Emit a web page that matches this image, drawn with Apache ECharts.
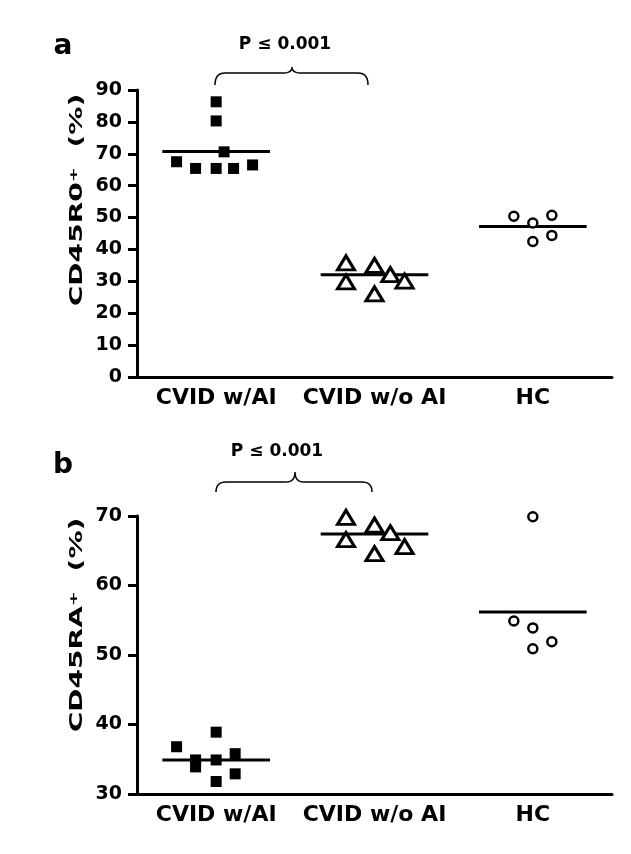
<!DOCTYPE html>
<html>
<head>
<meta charset="utf-8">
<script src="https://cdn.jsdelivr.net/npm/echarts@6/dist/echarts.min.js"></script>
<style>
html, body { margin: 0; padding: 0; background: #fff; }
#chart { width: 631px; height: 854px; }
</style>
</head>
<body>
<div id="chart"></div>
<script>
// groups on the x axis
const groups = ['CVID w/AI', 'CVID w/o AI', 'HC'];

// panel a: CD45R0+ (%), points as [x offset inside group, value]
const aCvidAI = [[0, 86.3], [0, 80.3], [0.05, 70.6], [-0.25, 67.5], [-0.13, 65.4], [0, 65.4], [0.11, 65.4], [0.23, 66.5]];
const aCvidNoAI = [[-0.18, 35.8], [-0.18, 29.8], [0, 35.0], [0.1, 32.1], [0.19, 30.1], [0, 26.1]];
const aHC = [[-0.12, 50.4], [0, 48.3], [0.12, 50.7], [0.12, 44.4], [0, 42.5]];
const aMeans = [70.7, 32.1, 47.2];

// panel b: CD45RA+ (%)
const bCvidAI = [[0, 38.9], [-0.25, 36.8], [-0.13, 34.9], [-0.13, 33.9], [0, 34.9], [0.12, 35.8], [0.12, 32.9], [0, 31.8]];
const bCvidNoAI = [[-0.18, 69.8], [-0.18, 66.6], [0, 68.7], [0.1, 67.6], [0.19, 65.6], [0, 64.6]];
const bHC = [[0, 69.9], [-0.12, 54.9], [0, 53.9], [0.12, 51.9], [0, 50.9]];
const bMeans = [34.9, 67.4, 56.2];

const font = '"DejaVu Sans", Verdana, sans-serif';

function pts(list, g) {
    return list.map(p => [g + 1 + p[0], p[1]]);
}

function dots(list, g, axis, kind) {
    const s = {
        type: 'scatter',
        xAxisIndex: axis * 2 + 1,
        yAxisIndex: axis,
        data: pts(list, g),
        z: 5,
        silent: true
    };
    if (kind === 'rect') {
        s.symbol = 'rect';
        s.symbolSize = 11;
        s.itemStyle = { color: '#000', opacity: 1 };
    } else if (kind === 'triangle') {
        s.symbol = 'triangle';
        s.symbolSize = [17, 14];
        s.itemStyle = { color: '#fff', borderColor: '#000', borderWidth: 3, opacity: 1 };
    } else {
        s.symbol = 'circle';
        s.symbolSize = 9;
        s.itemStyle = { color: '#fff', borderColor: '#000', borderWidth: 2.5, opacity: 1 };
    }
    return s;
}

function meanLine(m, g, axis) {
    return {
        type: 'line',
        xAxisIndex: axis * 2 + 1,
        yAxisIndex: axis,
        data: [[g + 1 - 0.34, m], [g + 1 + 0.34, m]],
        symbol: 'none',
        lineStyle: { color: '#000', width: 3 },
        z: 2,
        silent: true
    };
}

function catAxis(grid) {
    return {
        type: 'category',
        gridIndex: grid,
        data: groups,
        boundaryGap: true,
        axisLine: { lineStyle: { color: '#000', width: 3 } },
        axisTick: { alignWithLabel: true, length: 7, lineStyle: { color: '#000', width: 3 } },
        axisLabel: { interval: 0, hideOverlap: false, color: '#000', fontFamily: font, fontWeight: 'bold', fontSize: 22, margin: 10 },
        splitLine: { show: false }
    };
}

function posAxis(grid) {
    return { type: 'value', gridIndex: grid, min: 0.5, max: 3.5, show: false };
}

function valAxis(grid, min, max) {
    return {
        type: 'value',
        gridIndex: grid,
        min: min,
        max: max,
        interval: 10,
        axisLine: { show: true, lineStyle: { color: '#000', width: 3 } },
        axisTick: { show: true, length: 9, lineStyle: { color: '#000', width: 3 } },
        axisLabel: { color: '#000', fontFamily: font, fontWeight: 'bold', fontSize: 19, margin: 15 },
        splitLine: { show: false }
    };
}

function yName(x, y, main) {
    return {
        type: 'text',
        x: x,
        y: y,
        rotation: Math.PI / 2,
        scaleX: 1.65,
        style: {
            text: '{m|' + main + '}{s|+}{m|  (%)}',
            align: 'center',
            verticalAlign: 'middle',
            rich: {
                m: { fontFamily: font, fontWeight: 'bold', fontSize: 17, fill: '#000' },
                s: { fontFamily: font, fontWeight: 'bold', fontSize: 11, fill: '#000', verticalAlign: 'top', padding: [0, 0, 8, 0] }
            }
        }
    };
}

function label(x, y, txt, size) {
    return {
        type: 'text',
        x: x,
        y: y,
        style: {
            text: txt,
            align: 'center',
            verticalAlign: 'middle',
            fontFamily: font,
            fontWeight: 'bold',
            fontSize: size,
            fill: '#000'
        }
    };
}

// quadratic curve sampled into points
function quad(p0, c, p1) {
    const out = [];
    for (let i = 0; i <= 8; i++) {
        const t = i / 8;
        out.push([
            (1 - t) * (1 - t) * p0[0] + 2 * (1 - t) * t * c[0] + t * t * p1[0],
            (1 - t) * (1 - t) * p0[1] + 2 * (1 - t) * t * c[1] + t * t * p1[1]
        ]);
    }
    return out;
}

function brace(x1, x2, xm, yTop, yEnd, yPeak) {
    const p = [].concat(
        quad([x1, yEnd], [x1, yTop], [x1 + 10, yTop]),
        quad([xm - 9, yTop], [xm, yTop], [xm, yPeak]),
        quad([xm, yPeak], [xm, yTop], [xm + 9, yTop]),
        quad([x2 - 10, yTop], [x2, yTop], [x2, yEnd])
    );
    return {
        type: 'polyline',
        shape: { points: p },
        style: { fill: null, stroke: '#000', lineWidth: 1.5 }
    };
}

const chart = echarts.init(document.getElementById('chart'));
chart.setOption({
    backgroundColor: '#fff',
    animation: false,
    grid: [
        { left: 137, top: 90, width: 475, height: 287 },
        { left: 137, top: 516, width: 475, height: 278 }
    ],
    xAxis: [catAxis(0), posAxis(0), catAxis(1), posAxis(1)],
    yAxis: [valAxis(0, 0, 90), valAxis(1, 30, 70)],
    series: [
        meanLine(aMeans[0], 0, 0), meanLine(aMeans[1], 1, 0), meanLine(aMeans[2], 2, 0),
        meanLine(bMeans[0], 0, 1), meanLine(bMeans[1], 1, 1), meanLine(bMeans[2], 2, 1),
        dots(aCvidAI, 0, 0, 'rect'), dots(aCvidNoAI, 1, 0, 'triangle'), dots(aHC, 2, 0, 'circle'),
        dots(bCvidAI, 0, 1, 'rect'), dots(bCvidNoAI, 1, 1, 'triangle'), dots(bHC, 2, 1, 'circle')
    ],
    graphic: [
        label(63, 47, 'a', 28),
        label(63, 466, 'b', 28),
        label(285, 45, 'P ≤ 0.001', 17),
        label(277, 452, 'P ≤ 0.001', 17),
        brace(215, 368, 292, 73, 85, 67),
        brace(216, 372, 295, 482, 492, 472),
        yName(78, 200, 'CD45R0'),
        yName(78, 625, 'CD45RA')
    ]
});
</script>
</body>
</html>
